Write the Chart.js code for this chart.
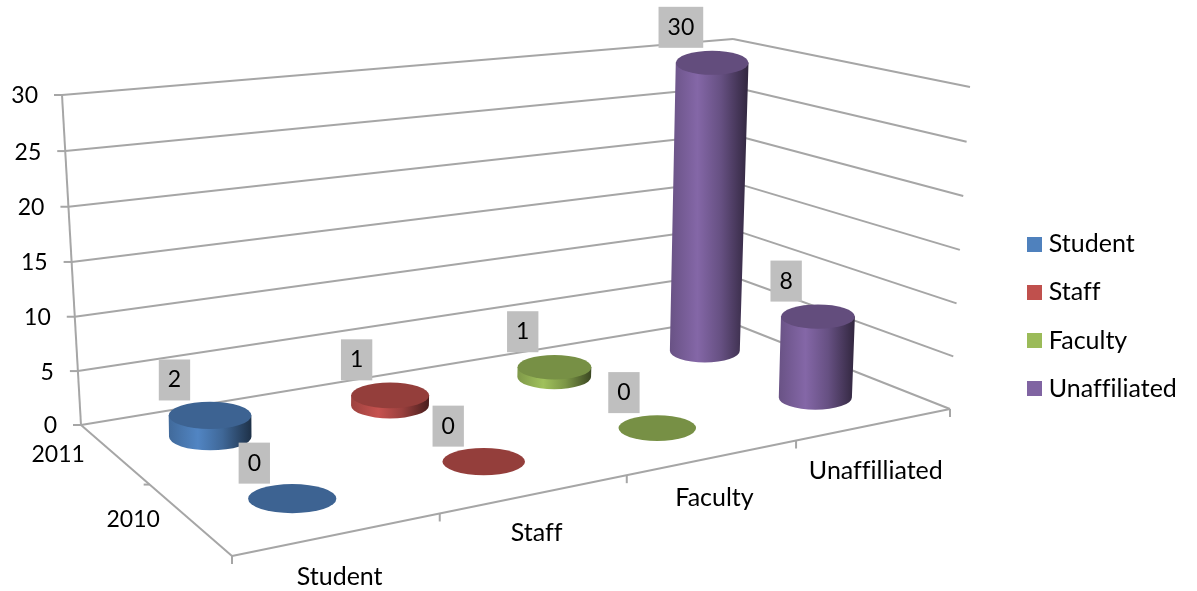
<!DOCTYPE html>
<html>
<head>
<meta charset="utf-8">
<style>
  html, body { margin: 0; padding: 0; background: #fff; }
  #wrap { width: 1197px; height: 591px; }
</style>
<script src="https://cdn.jsdelivr.net/npm/chart.js@4"></script>
</head>
<body>
<div id="wrap"><canvas id="chart"></canvas></div>
<script>
// data
const categories = ["Student", "Staff", "Faculty", "Unaffilliated"];
const years = ["2011", "2010"]; // back row first
const seriesNames = ["Student", "Staff", "Faculty", "Unaffiliated"];
const student = [2, 0];
const staff = [1, 0];
const faculty = [1, 0];
const unaffiliated = [30, 8];
const seriesColors = ["#4F81BD", "#C0504D", "#9BBB59", "#8064A2"];
const yTicks = { min: 0, max: 30, step: 5 };

// the 3d box as it sits on the page: back-left, back-right, front-right, front-left
const floorQuad = [[81, 425], [722, 319], [950, 409], [232, 556]];
const topQuad = [[62, 95], [733, 39], [970, 87], [215, 175]];
const categoryNudge = [2, -2, 0, 6];
const FONT_SIZE = 25;
const FONT = FONT_SIZE + "px Lato";
const NUM_FONT = "23px Lato";
const LINE = "#a6a6a6";

function quadMap(q) {
  const [x0, y0] = q[0], [x1, y1] = q[1], [x2, y2] = q[2], [x3, y3] = q[3];
  const dx1 = x1 - x2, dx2 = x3 - x2, sx = x0 - x1 + x2 - x3;
  const dy1 = y1 - y2, dy2 = y3 - y2, sy = y0 - y1 + y2 - y3;
  const den = dx1 * dy2 - dx2 * dy1;
  const g = (sx * dy2 - dx2 * sy) / den;
  const h = (dx1 * sy - sx * dy1) / den;
  const a = x1 - x0 + g * x1, b = x3 - x0 + h * x3;
  const d = y1 - y0 + g * y1, e = y3 - y0 + h * y3;
  return (u, v) => {
    const w = g * u + h * v + 1;
    return [(a * u + b * v + x0) / w, (d * u + e * v + y0) / w];
  };
}
const floorAt = quadMap(floorQuad);
const topAt = quadMap(topQuad);

function project(u, v, h) {
  const a = floorAt(u, v), b = topAt(u, v);
  const t = h / (1 + 0.024 * (1 - h)); // slight vertical perspective
  return [a[0] + (b[0] - a[0]) * t, a[1] + (b[1] - a[1]) * t];
}

function shade(hex, f) {
  const n = parseInt(hex.slice(1), 16);
  const c = [n >> 16, (n >> 8) & 255, n & 255].map((x) => Math.min(255, Math.round(x * f)));
  return "rgb(" + c.join(",") + ")";
}

function swatch(color) {
  const c = document.createElement("canvas");
  c.width = 15;
  c.height = 15;
  const g = c.getContext("2d");
  g.fillStyle = color;
  g.fillRect(0, 0, 15, 15);
  return c;
}

function seg(ctx, a, b) {
  ctx.beginPath();
  ctx.moveTo(a[0], a[1]);
  ctx.lineTo(b[0], b[1]);
  ctx.stroke();
}

function drawCylinder(ctx, u0, v, h, du, color) {
  const u = u0 * 1.005;
  const base = project(u, v, 0);
  const p = project(u, v, h);
  // the column leans and rises a bit less than the wall lines do
  const top = [base[0] + (p[0] - base[0]) * 0.5, base[1] + (p[1] - base[1]) * 0.975];
  const cell = (project(u + du, v, 0)[0] - project(u - du, v, 0)[0]) / 2;
  const rxB = cell * 0.44 * (1 + 0.14 * (u - 0.125));
  const rxT = rxB * (1 + 0.04 * h);
  const ryB = rxB * 0.33, ryT = rxT * 0.33;
  if (h > 0) {
    const grad = ctx.createLinearGradient(base[0] - rxB, 0, top[0] + rxT, 0);
    grad.addColorStop(0, shade(color, 0.82));
    grad.addColorStop(0.35, shade(color, 1.03));
    grad.addColorStop(0.65, shade(color, 0.8));
    grad.addColorStop(1, shade(color, 0.38));
    ctx.beginPath();
    ctx.moveTo(top[0] - rxT, top[1]);
    ctx.lineTo(base[0] - rxB, base[1]);
    ctx.ellipse(base[0], base[1], rxB, ryB, 0, Math.PI, 0, true);
    ctx.lineTo(top[0] + rxT, top[1]);
    ctx.closePath();
    ctx.fillStyle = grad;
    ctx.fill();
  }
  ctx.beginPath();
  ctx.ellipse(top[0], top[1], rxT, ryT, 0, 0, Math.PI * 2);
  ctx.fillStyle = shade(color, 0.77);
  ctx.fill();
  return { x: top[0], y: top[1], rx: rxT };
}

function drawValueLabel(ctx, t, value) {
  const text = String(value);
  ctx.font = NUM_FONT;
  const w = ctx.measureText(text).width + 18;
  const cx = t.x - t.rx * 0.86, cy = t.y - 35.5;
  ctx.fillStyle = "#bfbfbf";
  ctx.fillRect(cx - w / 2, cy - 20.5, w, 41);
  ctx.fillStyle = "#000";
  ctx.textAlign = "center";
  ctx.textBaseline = "middle";
  ctx.fillText(text, cx, cy);
}

// the bars themselves are replaced by cylinders placed from the chart's scales
const box3d = {
  id: "box3d",
  beforeDraw(chart) {
    chart.ctx.textRendering = "optimizeSpeed"; // no fi ligature
  },
  beforeDatasetsDraw(chart) {
    const ctx = chart.ctx;
    const { x, y, z } = chart.scales;
    const uOf = (i) => (x.getPixelForTick(i) - x.left) / x.width;
    const vOf = (j) => (z.getPixelForTick(j) - z.left) / z.width;
    const hOf = (value) => (y.bottom - y.getPixelForValue(value)) / y.height;
    const du = 1 / (2 * x.getLabels().length);

    ctx.save();
    ctx.lineWidth = 2;
    ctx.strokeStyle = LINE;
    ctx.fillStyle = "#000";

    // wall grid
    ctx.font = NUM_FONT;
    ctx.textAlign = "right";
    ctx.textBaseline = "middle";
    y.ticks.forEach((tick) => {
      const h = hOf(tick.value);
      const a = project(0, 0, h), b = project(1, 0, h), c = project(1, 1, h);
      seg(ctx, a, b);
      seg(ctx, b, c);
      seg(ctx, [a[0] - 8, a[1]], a);
      ctx.fillText(tick.label, a[0] - 24, a[1] + 1);
    });
    seg(ctx, project(0, 0, 0), project(0, 0, 1));

    // depth axis
    seg(ctx, project(0, 0, 0), project(0, 1, 0));
    z.ticks.forEach((tick, j) => {
      const m = project(0, vOf(j), 0);
      ctx.fillText(tick.label, m[0] - 29, m[1] + 1);
    });
    const mid = project(0, 0.5, 0);
    seg(ctx, [mid[0] - 6, mid[1]], mid);

    // category axis
    ctx.font = FONT;
    ctx.textAlign = "center";
    seg(ctx, project(0, 1, 0), project(1, 1, 0));
    x.ticks.forEach((tick, i) => {
      const e = project(i * 2 * du, 1, 0);
      seg(ctx, e, [e[0], e[1] + 8]);
      const m = project(uOf(i), 1, 0);
      ctx.fillText(tick.label, m[0] + 1, m[1] + 41 + categoryNudge[i]);
    });
    const end = project(1, 1, 0);
    seg(ctx, end, [end[0], end[1] + 8]);

    // cylinders back to front, labels on top
    const tops = [];
    z.getLabels().forEach((year, j) => {
      chart.data.datasets.forEach((ds, i) => {
        const value = ds.data[j].y;
        const t = drawCylinder(ctx, uOf(i), vOf(j), hOf(value), du, ds.backgroundColor);
        tops.push([t, value]);
      });
    });
    tops.forEach((p) => drawValueLabel(ctx, p[0], p[1]));
    ctx.restore();
    return false;
  },
};

const seriesValues = [student, staff, faculty, unaffiliated];

new Chart(document.getElementById("chart"), {
  type: "bar",
  plugins: [box3d],
  data: {
    labels: categories,
    datasets: seriesNames.map((name, i) => ({
      label: name,
      backgroundColor: seriesColors[i],
      borderWidth: 0,
      data: seriesValues[i].map((v, j) => ({ x: categories[i], y: v, year: years[j] })),
    })),
  },
  options: {
    responsive: true,
    maintainAspectRatio: false,
    animation: false,
    layout: { padding: { top: 42, right: 11.5 } },
    scales: {
      x: { type: "category", display: false, offset: true },
      z: { type: "category", axis: "x", display: false, offset: true, labels: years },
      y: {
        type: "linear",
        display: false,
        min: yTicks.min,
        max: yTicks.max,
        ticks: { stepSize: yTicks.step },
      },
    },
    plugins: {
      tooltip: { enabled: false },
      legend: {
        position: "right",
        labels: {
          color: "#000",
          font: { family: "Lato", size: FONT_SIZE },
          usePointStyle: true,
          pointStyleWidth: 4, // pulls the text close to the swatch
          boxHeight: 15,
          padding: 23.3,
          generateLabels(chart) {
            return Chart.defaults.plugins.legend.labels.generateLabels(chart).map((item, i) => {
              item.pointStyle = swatch(seriesColors[i]);
              return item;
            });
          },
        },
      },
    },
  },
});
</script>
</body>
</html>
